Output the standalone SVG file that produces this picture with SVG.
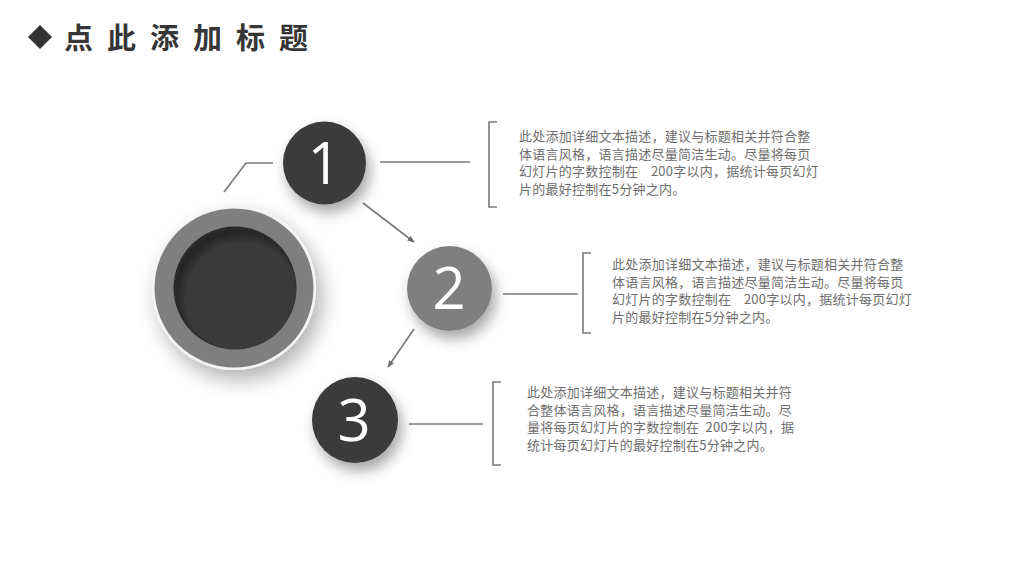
<svg xmlns="http://www.w3.org/2000/svg" width="1024" height="576" viewBox="0 0 1024 576">
<style>
.title{font-family:"Noto Sans CJK SC","Liberation Sans",sans-serif;font-weight:700;font-size:29px;fill:#363636;letter-spacing:14px}
.num{font-family:"Open Sans","Liberation Sans",sans-serif;font-weight:400;font-size:58px;fill:#fff;text-anchor:middle}
.desc{font-family:"Noto Sans CJK SC","Liberation Sans",sans-serif;font-size:13px;letter-spacing:0.25px;fill:#6e6e6e}
.ln{stroke:#7a7a7a;stroke-width:1.6;fill:none}
.dark{fill:#3a3a3a}
.gray{fill:#7f7f7f}
</style>
<defs>
<filter id="sh" x="-50%" y="-50%" width="200%" height="200%">
<feDropShadow dx="4" dy="8" stdDeviation="7" flood-color="#000" flood-opacity="0.35"/>
</filter>
<filter id="shBig" x="-50%" y="-50%" width="200%" height="200%">
<feDropShadow dx="6" dy="10" stdDeviation="10" flood-color="#000" flood-opacity="0.3"/>
</filter>
<radialGradient id="inner" cx="0.55" cy="0.58" r="0.55">
<stop offset="0.85" stop-color="#3a3a3a"/>
<stop offset="1" stop-color="#262626"/>
</radialGradient>
<marker id="arr" viewBox="0 0 10 10" refX="9" refY="5" markerWidth="7" markerHeight="7" orient="auto-start-reverse" markerUnits="userSpaceOnUse">
<path d="M0,1 L10,5 L0,9 Z" fill="#6a6a6a"/>
</marker>
</defs>
<rect width="1024" height="576" fill="#fff"/>
<g id="title">
<path d="M40,25 L52,37 L40,49 L28,37 Z" fill="#333"/>
<text class="title" x="64" y="48.5">点此添加标题</text>
</g>
<g id="connectors">
<polyline class="ln" points="224,192 246,163 273,163"/>
<line class="ln" x1="380" y1="162" x2="470" y2="162"/>
<path class="ln" d="M497,122 H489 V207 H497"/>
<line class="ln" x1="363" y1="203" x2="414" y2="242" marker-end="url(#arr)"/>
<line class="ln" x1="503" y1="294" x2="578" y2="294"/>
<path class="ln" d="M591,253 H583 V333 H591"/>
<line class="ln" x1="414" y1="329" x2="388" y2="367" marker-end="url(#arr)"/>
<line class="ln" x1="409" y1="424" x2="483" y2="424"/>
<path class="ln" d="M501,382 H493 V465 H501"/>
</g>
<g id="center">
<circle cx="234" cy="288" r="82" fill="#f4f4f4" filter="url(#shBig)"/>
<circle cx="234" cy="288" r="79.5" class="gray"/>
<circle cx="235" cy="288" r="61.5" fill="#2a2a2a"/>
<circle cx="236" cy="289" r="60" fill="url(#inner)"/>
</g>
<g id="node1">
<circle cx="324.5" cy="163" r="41.5" class="dark" filter="url(#sh)"/>
<text class="num" x="324" y="184">1</text>
</g>
<g id="node2">
<circle cx="449.5" cy="288.5" r="42.5" class="gray" filter="url(#sh)"/>
<text class="num" x="449" y="309">2</text>
</g>
<g id="node3">
<circle cx="355" cy="420" r="43" class="dark" filter="url(#sh)"/>
<text class="num" x="354" y="441">3</text>
</g>
<g id="text1" class="desc">
<text x="519" y="141">此处添加详细文本描述，建议与标题相关并符合整</text>
<text x="519" y="158.5">体语言风格，语言描述尽量简洁生动。尽量将每页</text>
<text x="519" y="176">幻灯片的字数控制在&#160;&#160;&#160;&#160;200字以内，据统计每页幻灯</text>
<text x="519" y="193.5">片的最好控制在5分钟之内。</text>
</g>
<g id="text2" class="desc">
<text x="612" y="269">此处添加详细文本描述，建议与标题相关并符合整</text>
<text x="612" y="286.5">体语言风格，语言描述尽量简洁生动。尽量将每页</text>
<text x="612" y="304">幻灯片的字数控制在&#160;&#160;&#160;&#160;200字以内，据统计每页幻灯</text>
<text x="612" y="321.5">片的最好控制在5分钟之内。</text>
</g>
<g id="text3" class="desc">
<text x="527" y="397">此处添加详细文本描述，建议与标题相关并符</text>
<text x="527" y="414.5">合整体语言风格，语言描述尽量简洁生动。尽</text>
<text x="527" y="432">量将每页幻灯片的字数控制在&#160;&#160;200字以内，据</text>
<text x="527" y="449.5">统计每页幻灯片的最好控制在5分钟之内。</text>
</g>
</svg>
